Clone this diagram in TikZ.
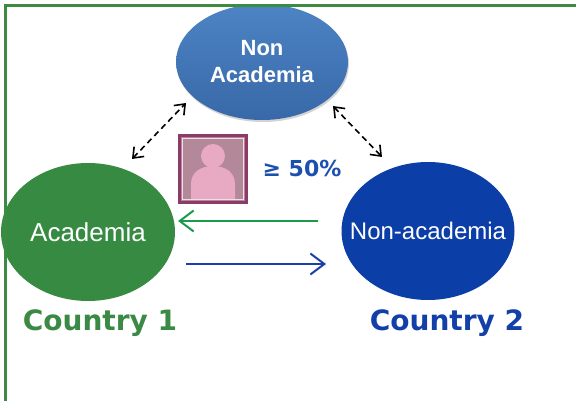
\documentclass[tikz,border=0pt]{standalone}
\usepackage{fontspec}
\setmainfont{Liberation Sans}
\newfontfamily\dv{DejaVu Sans}
\usetikzlibrary{shapes.geometric,arrows.meta,shadows}
\definecolor{frameg}{HTML}{3D8B40}
\definecolor{acadg}{HTML}{368A41}
\definecolor{nonb}{HTML}{0C3EA8}
\definecolor{topb1}{HTML}{4D84C4}
\definecolor{topb2}{HTML}{3868A8}
\definecolor{ctryg}{HTML}{3A8A45}
\definecolor{ctryb}{HTML}{1340A8}
\definecolor{pctb}{HTML}{1B4FB0}
\definecolor{arrg}{HTML}{1A9A4A}
\definecolor{arrb}{HTML}{1A3FA8}
\definecolor{iconborder}{HTML}{8E3A68}
\definecolor{iconfill}{HTML}{B38898}
\definecolor{iconperson}{HTML}{E8A9C2}
\tikzset{
  blob/.style={ellipse, inner sep=0pt, text=white},
  blobtext/.style={text=white, inner sep=0pt},
  dasharrow/.style={black, line width=1.6pt, dash pattern=on 6pt off 4pt, {Straight Barb[length=9pt,width=14pt]}-{Straight Barb[length=9pt,width=14pt]}},
  flowarrow/.style={line width=2pt, -{Straight Barb[length=14pt,width=21pt]}},
  country/.style={font=\dv\bfseries\fontsize{28}{32}\selectfont}
}
\begin{document}
\begin{tikzpicture}[x=1pt,y=-1pt]
\useasboundingbox (0,0) rectangle (576,401);
% top ellipse
\node[blob, minimum width=172pt, minimum height=116pt, top color=topb1, bottom color=topb2,
  drop shadow={opacity=0.35, shadow xshift=1pt, shadow yshift=-2pt}] (nonacad) at (262,62) {};
\node[blobtext, align=center, font=\bfseries\fontsize{22}{27}\selectfont] (nonacadtext) at (nonacad.center) {Non\\Academia};
% green circle
\node[blob, fill=acadg, minimum width=174pt, minimum height=138pt] (acad) at (88,232) {};
\node[blobtext, font=\fontsize{26}{30}\selectfont] (acadtext) at (acad.center) {Academia};
% blue ellipse
\node[blob, fill=nonb, minimum width=173pt, minimum height=138pt] (nonacad2) at (428,231) {};
\node[blobtext, font=\fontsize{24}{28}\selectfont] (nonacad2text) at (nonacad2.center) {Non-academia};
% frame
\draw[frameg, line width=3pt] (5,401) -- (5,6) -- (576,6);
% dashed arrows
\coordinate (dl1) at (132,159);
\coordinate (dl2) at (186,103);
\coordinate (dr1) at (333,106);
\coordinate (dr2) at (382,157);
\draw[dasharrow] (dl1) -- (dl2);
\draw[dasharrow] (dr1) -- (dr2);
% icon
\node[draw=iconborder, line width=2.5pt, fill=iconfill, minimum width=67pt, minimum height=67pt, inner sep=0pt] (icon) at (213,169) {};
\draw[white!75!iconfill, line width=1pt] (182.5,138.5) rectangle (243.5,199.5);
\fill[iconperson] (213,156) circle (12);
\fill[iconperson] (191,199) -- (191,184) .. controls (191,172) and (201,166) .. (213,166) .. controls (225,166) and (235,172) .. (235,184) -- (235,199) -- cycle;
% percent
\node[text=pctb, font=\dv\bfseries\fontsize{22}{24}\selectfont] (pct) at (302,168) {≥ 50\%};
% flow arrows
\coordinate (ga1) at (318,221);
\coordinate (ga2) at (178,221);
\coordinate (ba1) at (186,264);
\coordinate (ba2) at (326,264);
\draw[flowarrow, arrg] (ga1) -- (ga2);
\draw[flowarrow, arrb] (ba1) -- (ba2);
% country labels
\node[country, text=ctryg] (c1) at (100,323) {Country 1};
\node[country, text=ctryb] (c2) at (447,323) {Country 2};
\end{tikzpicture}
\end{document}
